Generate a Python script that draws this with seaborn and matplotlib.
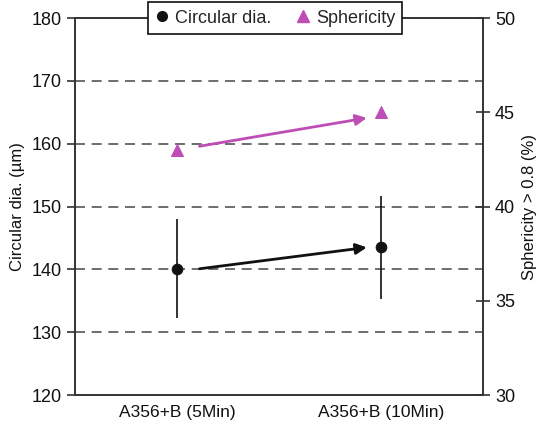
import matplotlib
matplotlib.use("Agg")
import matplotlib.pyplot as plt
import seaborn as sns
import pandas as pd
from matplotlib.lines import Line2D

categories = ["A356+B (5Min)", "A356+B (10Min)"]
circular_dia = [140.1, 143.5]
circular_err = [7.9, 8.2]
sphericity = [43.0, 45.0]

sns.set_style("white")
plt.rcParams["font.family"] = ["Liberation Sans", "DejaVu Sans"]

MAG = "#BE4DB6"
df = pd.DataFrame({"cat": categories, "dia": circular_dia, "err": circular_err, "sph": sphericity})

fig = plt.figure(figsize=(5.44, 4.29), dpi=100)
ax = fig.add_axes([0.138, 0.079, 0.750, 0.879])
ax2 = ax.twinx()

pos = list(range(len(categories)))
ax.errorbar(pos, circular_dia, yerr=circular_err, fmt="none", ecolor="#111111", elinewidth=1.2, capsize=0, zorder=3)
sns.scatterplot(data=df, x="cat", y="dia", ax=ax, color="#111111", marker="o", s=60, edgecolor="#111111", zorder=4, legend=False)
sns.scatterplot(data=df, x="cat", y="sph", ax=ax2, color=MAG, marker="^", s=75, edgecolor=MAG, zorder=4, legend=False)

# trend arrows
ax.annotate("", xy=(pos[1] - 0.07, circular_dia[1]), xytext=(pos[0] + 0.11, circular_dia[0]),
            arrowprops=dict(arrowstyle="-|>", color="#111111", lw=2, mutation_scale=16, shrinkA=0, shrinkB=0))
ax2.annotate("", xy=(pos[1] - 0.07, sphericity[1] - 0.3), xytext=(pos[0] + 0.11, sphericity[0] + 0.2),
             arrowprops=dict(arrowstyle="-|>", color=MAG, lw=2, mutation_scale=16, shrinkA=0, shrinkB=0))

ax.set_xlim(-0.5, 1.5)
ax.set_ylim(120, 180)
ax2.set_ylim(30, 50)
ax.set_yticks([120, 130, 140, 150, 160, 170, 180])
ax2.set_yticks([30, 35, 40, 45, 50])
ax.set_xticks(pos)
ax.set_xticklabels(categories)
ax.set_xticks([-0.5, 0.5, 1.5], minor=True)
ax.tick_params(axis="x", which="major", length=0, labelsize=12.5, pad=7, colors="#111111")
ax.tick_params(axis="x", which="minor", length=5, width=1.2, direction="out", color="#333333")
ax.tick_params(axis="y", length=6, width=1.2, direction="out", labelsize=13, color="#333333", labelcolor="#111111", left=True)
ax2.tick_params(axis="y", length=10, width=1.2, direction="inout", labelsize=13, color="#333333", labelcolor="#111111", right=True)

for yv in [130, 140, 150, 160, 170]:
    ax.axhline(yv, color="#555555", lw=1.2, ls=(0, (6, 4)), zorder=1)

ax.set_xlabel("")
ax.set_ylabel("Circular dia. (\u00b5m)", fontsize=12, color="#111111", labelpad=5)
ax2.set_ylabel("Sphericity > 0.8 (%)", fontsize=12, color="#111111", labelpad=5)

for a in (ax, ax2):
    for s in a.spines.values():
        s.set_color("#333333")
        s.set_linewidth(1.2)

handles = [Line2D([], [], ls="none", marker="o", color="#111111", markersize=7),
           Line2D([], [], ls="none", marker="^", color=MAG, markersize=8)]
leg = ax2.legend(handles, ["Circular dia.", "Sphericity"], loc="center", bbox_to_anchor=(0.49, 1.0),
                 ncol=2, frameon=True, fancybox=False, framealpha=1, edgecolor="#111111",
                 fontsize=13, handlelength=0.8, handletextpad=0.3, columnspacing=1.4,
                 borderpad=0.4, borderaxespad=0)
leg.get_frame().set_linewidth(1.2)
leg.set_zorder(10)

fig.savefig("out.png", dpi=100)
